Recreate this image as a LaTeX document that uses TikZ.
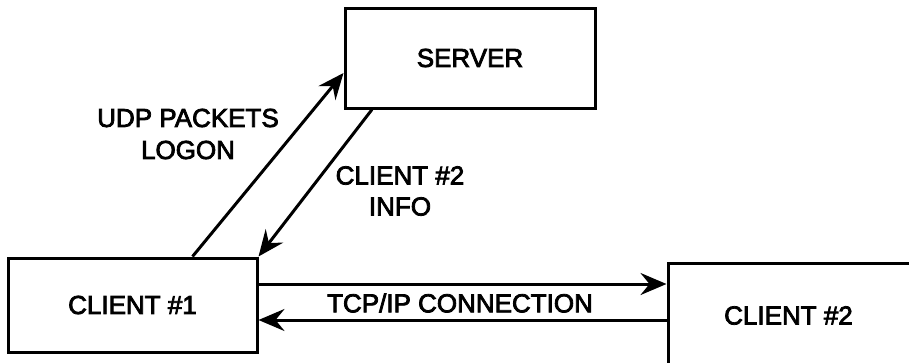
\documentclass[tikz,border=0pt]{standalone}
\usepackage{fontspec}
\setmainfont{Liberation Sans}[FakeBold=3]
\usetikzlibrary{positioning, calc, arrows.meta}

\begin{document}
\begin{tikzpicture}[
    x=1pt, y=-1pt,
    font=\fontsize{26}{32}\selectfont,
    box/.style={rectangle, draw=black, line width=3pt, fill=white,
                inner sep=0pt, align=center},
    arrow/.style={-{Stealth[length=26pt, width=22pt, inset=9pt]}, line width=3pt},
    lbl/.style={align=center, inner sep=0pt}
]
\useasboundingbox (0,0) rectangle (909,362);

% Main boxes
\node[box, minimum width=250pt, minimum height=100pt] (server) at (470,58) {SERVER};
\node[box, minimum width=249pt, minimum height=94pt] (client1) at (132.5,305) {CLIENT \#1};
\node[box, minimum width=247pt, minimum height=105pt] (client2) at (791.5,315.5) {\hspace*{-6pt}CLIENT \#2};

% Links to the server
\draw[arrow] ([xshift=60pt]client1.north) -- ([yshift=-15pt]server.west);
\draw[arrow] ([xshift=-98pt]server.south) -- (client1.north east);

% Links between the clients
\draw[arrow] ([yshift=21pt]client1.east) coordinate (tcpA) -- (tcpA -| client2.west);
\draw[arrow] ([yshift=-15pt]client1.east) coordinate (tcpB) (tcpB -| client2.west) -- (tcpB);

% Labels
\node[lbl] (udp) at (188,134) {UDP PACKETS\\[0pt]LOGON};
\node[lbl] (info) at (400,191) {CLIENT \#2\\[-1pt]INFO};
\node[lbl] (tcp) at (460,303) {TCP/IP CONNECTION};

\end{tikzpicture}
\end{document}
